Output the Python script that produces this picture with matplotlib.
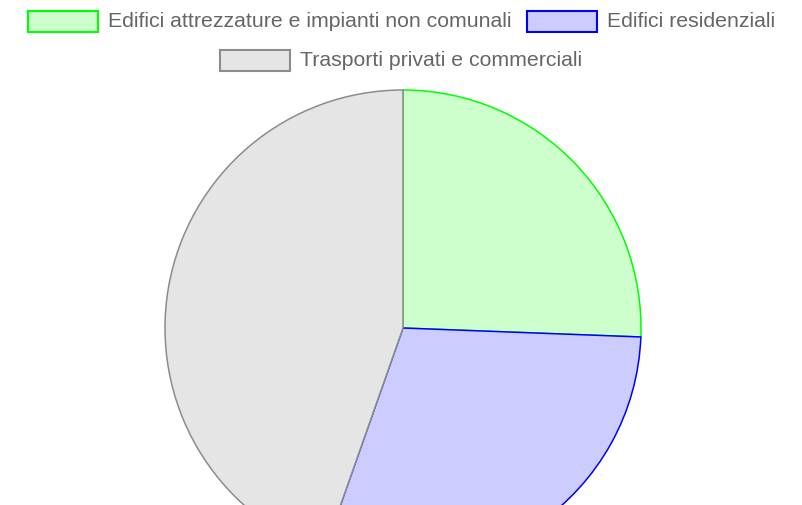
import matplotlib
matplotlib.use("Agg")
import matplotlib.pyplot as plt
from matplotlib.patches import Rectangle

# data (share of the pie, %)
labels = ["Edifici attrezzature e impianti non comunali",
          "Edifici residenziali",
          "Trasporti privati e commerciali"]
values = [25.6, 29.8, 44.6]
fills = ["#ccffcc", "#ccccff", "#e5e5e5"]
edges = ["#00ff00", "#0000ff", "#8c8c8c"]

W, H = 803, 505
fig = plt.figure(figsize=(W / 100, H / 100), dpi=100)
ax = fig.add_axes([0, 0, 1, 1])

wedges, _ = ax.pie(values, colors=fills, startangle=90, counterclock=False,
                   center=(403, H - 328), radius=238, frame=True,
                   wedgeprops=dict(linewidth=1.1))
for w, ec in zip(wedges, edges):
    w.set_edgecolor(ec)
ax.set_xlim(0, W)
ax.set_ylim(0, H)
ax.set_aspect("equal")
ax.axis("off")

# legend laid out like the chart.js one: wrapped rows, centred
font = dict(family="Liberation Sans", size=15.3, color="#666666")
box_w, box_h, pad, gap = 70, 21, 10, 16
rows = [[0, 1], [2]]
row_y = [21, 60]
fig.canvas.draw()
rend = fig.canvas.get_renderer()
widths = []
for lab in labels:
    t = fig.text(0, 0, lab, **font)
    widths.append(t.get_window_extent(rend).width)
    t.remove()

for row, yc in zip(rows, row_y):
    total = sum(box_w + pad + widths[i] for i in row) + gap * (len(row) - 1)
    x = W / 2 - total / 2
    for i in row:
        ax.add_patch(Rectangle((x, H - yc - box_h / 2), box_w, box_h,
                               facecolor=fills[i], edgecolor=edges[i],
                               linewidth=1.5, clip_on=False))
        ax.text(x + box_w + pad, H - yc, labels[i], va="center", ha="left", **font)
        x += box_w + pad + widths[i] + gap

fig.savefig("out.png", dpi=100)
